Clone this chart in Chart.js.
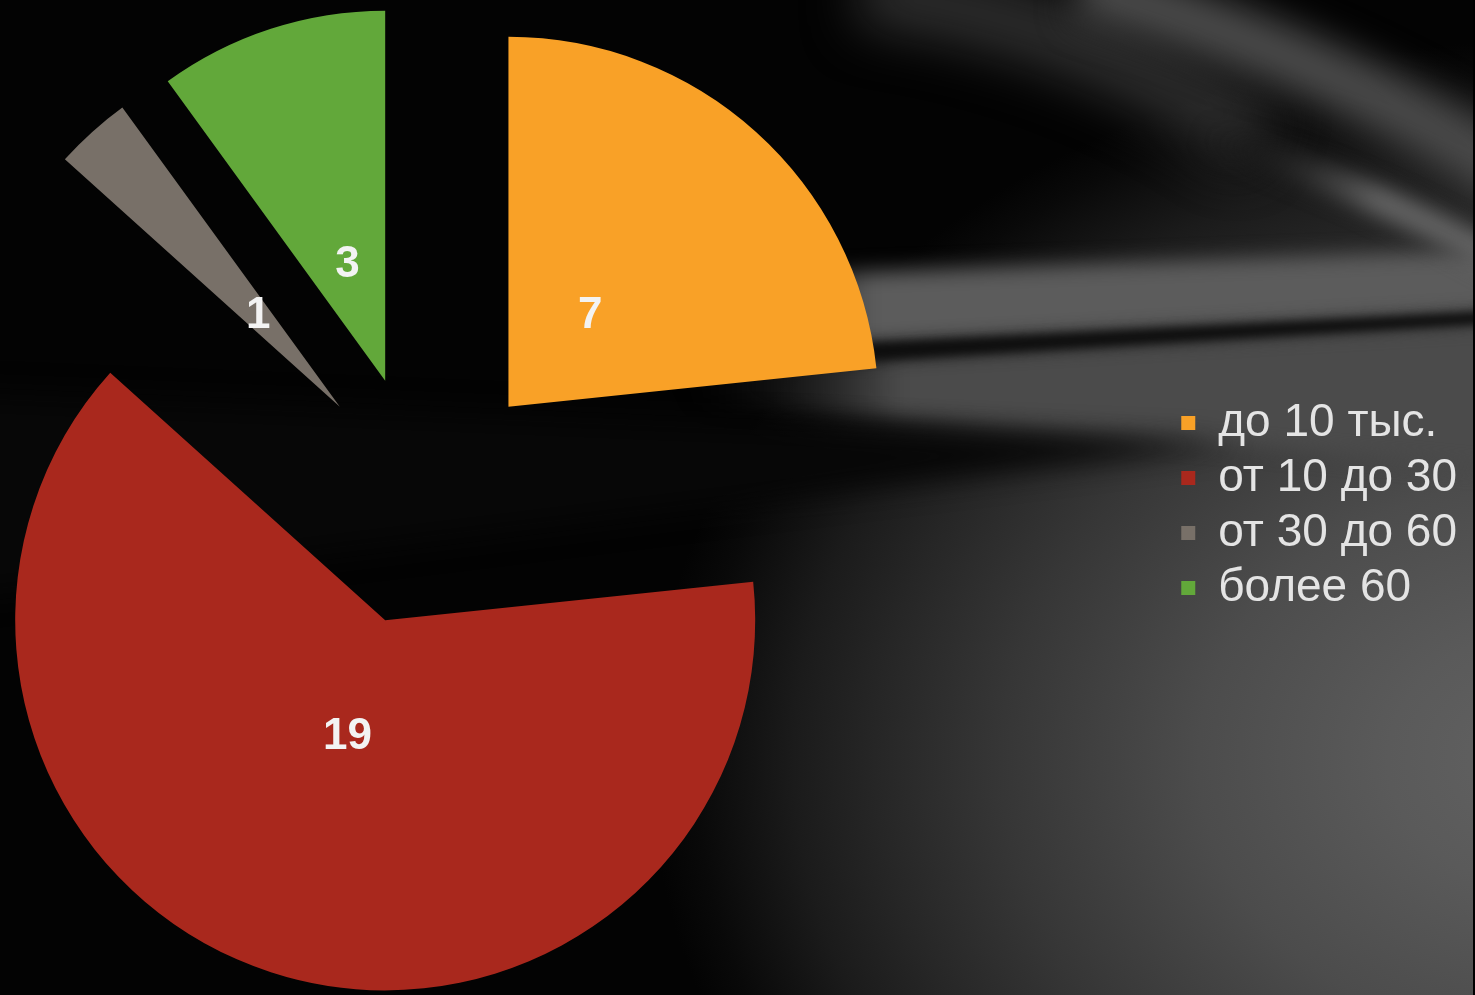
<!DOCTYPE html>
<html lang="ru">
<head>
<meta charset="utf-8">
<title>Доход</title>
<script src="https://cdn.jsdelivr.net/npm/chart.js@4.4.1/dist/chart.umd.min.js"></script>
<style>
  html, body { margin: 0; padding: 0; background: #000; overflow: hidden; }
  #wrap { width: 1475px; height: 995px; overflow: hidden; }
  #pieChart { display: block; margin-left: -324px; }
</style>
</head>
<body>
<div id="wrap"><canvas id="pieChart" width="1797" height="995"></canvas></div>
<script>
'use strict';

const categories = ['до 10 тыс.', 'от 10 до 30', 'от 30 до 60', 'более 60'];
const counts = [7, 19, 1, 3];
const sliceColors = ['#F9A127', '#A9281D', '#787068', '#62A83A'];

// the canvas is wider than the slide and starts left of it (see margin-left),
// so the pie sits left of centre while the legend stays on the right edge
const slideShift = 324;

// dark slide background with grey light streaks running to the right edge
const backdrop = {
    id: 'backdrop',
    beforeDraw(chart) {
        const ctx = chart.ctx;
        ctx.save();
        ctx.translate(slideShift, 0);

        ctx.save();
        ctx.translate(1550, 760);
        ctx.scale(1, 0.8);
        const glow = ctx.createRadialGradient(0, 0, 0, 0, 0, 900);
        glow.addColorStop(0, '#626262');
        glow.addColorStop(0.18, '#5a5a5a');
        glow.addColorStop(0.39, '#4c4c4c');
        glow.addColorStop(0.61, '#363636');
        glow.addColorStop(0.75, '#262626');
        glow.addColorStop(0.84, '#1b1b1b');
        glow.addColorStop(0.95, '#090909');
        glow.addColorStop(1, '#030303');
        ctx.fillStyle = glow;
        ctx.fillRect(-2500, -1500, 4000, 3000);
        ctx.restore();

        const band = (pts, color, fadeFrom, fadeTo, blur) => {
            ctx.filter = 'blur(' + blur + 'px)';
            if (fadeFrom === fadeTo) {
                ctx.fillStyle = color;
            } else {
                const g = ctx.createLinearGradient(fadeFrom, 0, fadeTo, 0);
                g.addColorStop(0, 'rgba(0,0,0,0)');
                g.addColorStop(1, color);
                ctx.fillStyle = g;
            }
            ctx.beginPath();
            ctx.moveTo(pts[0][0], pts[0][1]);
            pts.slice(1).forEach(p => ctx.lineTo(p[0], p[1]));
            ctx.closePath();
            ctx.fill();
        };
        band([[680, 278], [1500, 250], [1500, 312], [880, 345], [680, 352]], '#5c5c5c', 690, 870, 10);
        band([[680, 368], [1500, 322], [1500, 470], [1230, 444], [700, 404]], '#4b4b4b', 670, 900, 10);
        band([[840, 345], [1500, 311], [1500, 323], [840, 362]], '#0d0d0d', 840, 840, 5);
        band([[-50, 392], [1235, 444], [-50, 600]], '#070707', -50, -50, 14);

        const streak = (pts, w, color, blur, fade) => {
            ctx.filter = 'blur(' + blur + 'px)';
            if (fade) {
                const g = ctx.createLinearGradient(pts[0], pts[1], pts[2], pts[3]);
                g.addColorStop(0, 'rgba(0,0,0,0)');
                g.addColorStop(1, color);
                ctx.strokeStyle = g;
            } else {
                ctx.strokeStyle = color;
            }
            ctx.lineWidth = w;
            ctx.beginPath();
            ctx.moveTo(pts[0], pts[1]);
            ctx.quadraticCurveTo(pts[2], pts[3], pts[4], pts[5]);
            ctx.stroke();
        };
        streak([860, -10, 1090, 20, 1260, 140], 70, 'rgba(50,50,50,0.9)', 26, false);
        streak([1080, -15, 1330, 55, 1520, 180], 60, 'rgba(74,74,74,1)', 18, false);
        streak([1200, 135, 1380, 190, 1520, 272], 30, 'rgba(98,98,98,1)', 10, true);
        ctx.restore();
    }
};

// pull every slice away from the centre along its middle angle
const explode = {
    id: 'explode',
    beforeDatasetsDraw(chart, args, opts) {
        const area = chart.chartArea;
        const cx = (area.left + area.right) / 2;
        const cy = (area.top + area.bottom) / 2;
        chart.getDatasetMeta(0).data.forEach(arc => {
            const mid = (arc.startAngle + arc.endAngle) / 2;
            arc.x = cx + Math.cos(mid) * opts.distance;
            arc.y = cy + Math.sin(mid) * opts.distance;
        });
    }
};

// value labels inside the slices
const sliceLabels = {
    id: 'sliceLabels',
    afterDatasetsDraw(chart, args, opts) {
        const ctx = chart.ctx;
        const values = chart.data.datasets[0].data;
        ctx.save();
        ctx.font = opts.font;
        ctx.fillStyle = opts.color;
        ctx.textAlign = 'center';
        ctx.textBaseline = 'middle';
        chart.getDatasetMeta(0).data.forEach((arc, i) => {
            const mid = (arc.startAngle + arc.endAngle) / 2;
            const r = arc.outerRadius * opts.position;
            ctx.fillText(String(values[i]), arc.x + Math.cos(mid) * r, arc.y + Math.sin(mid) * r);
        });
        ctx.restore();
    }
};

new Chart('pieChart', {
    type: 'pie',
    data: {
        labels: categories,
        datasets: [{
            data: counts,
            backgroundColor: sliceColors,
            borderWidth: 0
        }]
    },
    options: {
        responsive: false,
        animation: false,
        radius: 370,
        layout: {
            padding: {left: 0, right: 6, top: 6, bottom: 0}
        },
        plugins: {
            legend: {
                position: 'right',
                // empty title only nudges the item column down a little
                title: {display: true, text: '', font: {size: 1}, padding: {top: 9, bottom: 0}},
                labels: {
                    color: '#e4e4e4',
                    font: {family: '"Liberation Sans", Arial, sans-serif', size: 46},
                    boxWidth: 14,
                    boxHeight: 14,
                    padding: 9
                }
            },
            tooltip: {enabled: false},
            explode: {distance: 126},
            sliceLabels: {
                font: 'bold 44px "Liberation Sans", Arial, sans-serif',
                color: '#f3f3f3',
                position: 0.33
            }
        }
    },
    plugins: [backdrop, explode, sliceLabels]
});
</script>
</body>
</html>
